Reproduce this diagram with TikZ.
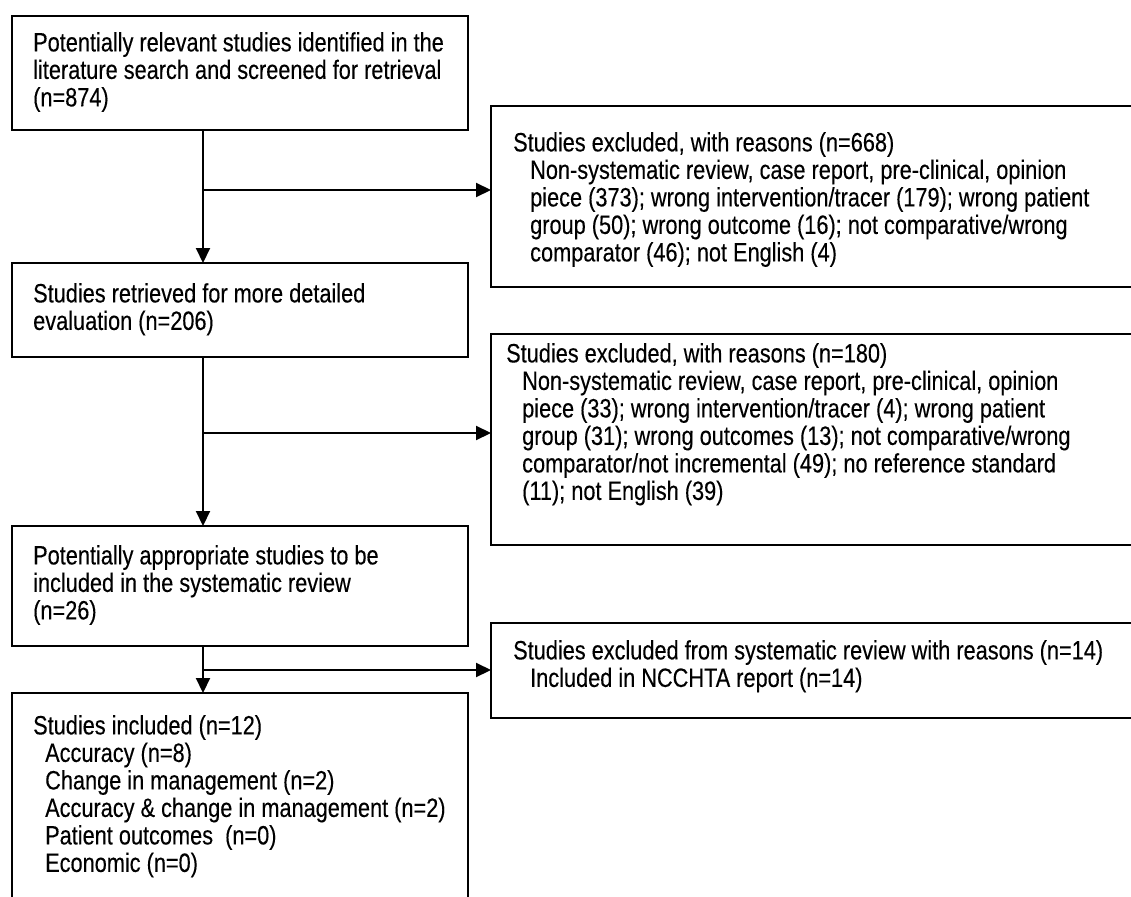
\documentclass[tikz,border=0pt]{standalone}
\usepackage{fontspec}
\setmainfont{Liberation Sans}[FakeStretch=0.82,FakeBold=0.25]
\usetikzlibrary{arrows.meta}
\begin{document}
\begin{tikzpicture}[x=1pt,y=-1pt,
  box/.style={draw, line width=2.1pt, anchor=north west, inner sep=0pt, outer sep=0pt},
  txt/.style={anchor=north west, inner sep=0pt, align=left, font=\fontsize{26.5}{27.5}\selectfont},
  arr/.style={line width=2.1pt, -{Triangle[length=15pt,width=14pt]}}]
\useasboundingbox (0,0) rectangle (1131,896);
\fill[white] (0,0) rectangle (1131,896);
\clip (0,0) rectangle (1131,896);
% boxes
\node[box, minimum width=456pt, minimum height=114pt] (A) at (12,16) {};
\node[box, minimum width=650pt, minimum height=181pt] (E1) at (491,106) {};
\node[box, minimum width=456pt, minimum height=94pt] (B) at (12,263) {};
\node[box, minimum width=650pt, minimum height=211pt] (E2) at (491,334) {};
\node[box, minimum width=456pt, minimum height=120pt] (C) at (12,526) {};
\node[box, minimum width=650pt, minimum height=95pt] (E3) at (491,623) {};
\node[box, minimum width=456pt, minimum height=220pt] (D) at (12,693) {};
% texts
\node[txt] (tA) at (33,32) {Potentially relevant studies identified in the\\literature search and screened for retrieval\\(n=874)};
\node[txt] (tE1) at (513,132) {Studies excluded, with reasons (n=668)\\
\hspace*{17pt}Non-systematic review, case report, pre-clinical, opinion\\
\hspace*{17pt}piece (373); wrong intervention/tracer (179); wrong patient\\
\hspace*{17pt}group (50); wrong outcome (16); not comparative/wrong\\
\hspace*{17pt}comparator (46); not English (4)};
\node[txt] (tB) at (33,283) {Studies retrieved for more detailed\\evaluation (n=206)};
\node[txt] (tE2) at (506,343) {Studies excluded, with reasons (n=180)\\
\hspace*{16pt}Non-systematic review, case report, pre-clinical, opinion\\
\hspace*{16pt}piece (33); wrong intervention/tracer (4); wrong patient\\
\hspace*{16pt}group (31); wrong outcomes (13); not comparative/wrong\\
\hspace*{16pt}comparator/not incremental (49); no reference standard\\
\hspace*{16pt}(11); not English (39)};
\node[txt] (tC) at (33,545) {Potentially appropriate studies to be\\included in the systematic review\\(n=26)};
\node[txt] (tE3) at (513,640) {Studies excluded from systematic review with reasons (n=14)\\
\hspace*{17pt}Included in NCCHTA report (n=14)};
\node[txt] (tD) at (33,715) {Studies included (n=12)\\
\hspace*{12pt}Accuracy (n=8)\\
\hspace*{12pt}Change in management (n=2)\\
\hspace*{12pt}Accuracy \& change in management (n=2)\\
\hspace*{12pt}Patient outcomes\ \ (n=0)\\
\hspace*{12pt}Economic (n=0)};
% connectors
\coordinate (spine) at (203,0);
\coordinate (j1) at (203,190);
\coordinate (j2) at (203,433);
\coordinate (j3) at (203,670);
\draw[arr] (A.south -| spine) -- (B.north -| spine);
\draw[arr] (j1) -- (j1 -| E1.west);
\draw[arr] (B.south -| spine) -- (C.north -| spine);
\draw[arr] (j2) -- (j2 -| E2.west);
\draw[arr] (C.south -| spine) -- (D.north -| spine);
\draw[arr] (j3) -- (j3 -| E3.west);
\end{tikzpicture}
\end{document}
